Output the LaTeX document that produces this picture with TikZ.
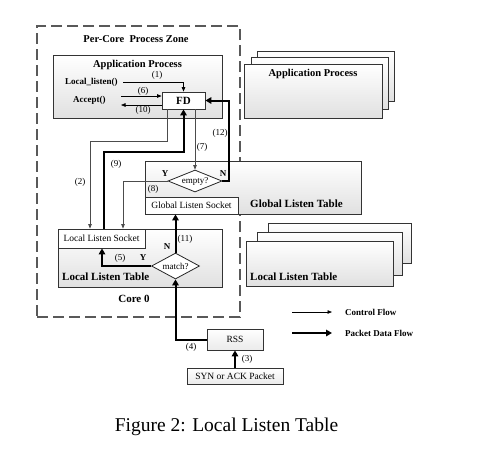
\documentclass[tikz,border=0pt]{standalone}
\usepackage{fontspec}
\setmainfont{Liberation Serif}
\usetikzlibrary{arrows.meta,shapes.geometric}
\newcommand{\fs}[1]{\fontsize{#1}{#1}\selectfont}
\tikzset{
  zone/.style={draw=black!65, line width=1.5pt, dash pattern=on 11pt off 5pt, inner sep=0},
  bigbox/.style={draw=black!80, line width=0.8pt, top color=white, bottom color=black!12, inner sep=0},
  plainbox/.style={draw=black!80, line width=0.8pt, fill=white, inner sep=0},
  smallbox/.style={draw=black!80, line width=0.8pt, top color=white, bottom color=black!8, inner sep=0},
  dec/.style={draw=black!85, line width=0.8pt, fill=white, shape=diamond, inner sep=0.5pt, font=\fs{9}},
  btxt/.style={font=\bfseries\fs{11}, inner sep=0},
  stxt/.style={font=\bfseries\fs{9}, inner sep=0},
  rtxt/.style={font=\fs{9.5}, inner sep=0},
  num/.style={font=\fs{9}, inner sep=0},
  ctrl/.style={draw=black, line width=0.7pt, -{Triangle[length=4.5pt,width=3.5pt]}},
  ctrlg/.style={draw=black!70, line width=0.7pt, -{Triangle[length=4.5pt,width=3.5pt]}},
  data/.style={draw=black, line width=2pt, -{Triangle[length=6pt,width=6.5pt]}},
}
\begin{document}
\begin{tikzpicture}[x=1pt,y=-1pt]
\useasboundingbox (0,0) rectangle (482,467);

% dashed per-core zone
\node[zone, minimum width=203, minimum height=291] (zone) at (138.5,171.5) {};
\node[btxt, font=\bfseries\fs{10.5}] (ztitle) at (136,39) {Per-Core\ \ Process Zone};

% application process (core 0)
\node[bigbox, minimum width=169, minimum height=63] (app) at (137.5,86.5) {};
\node[btxt, font=\bfseries\fs{10.5}] (apptitle) at (137.5,65) {Application Process};
\node[stxt, anchor=west] (ll) at (65,82) {Local\_listen()};
\node[stxt, anchor=west] (acc) at (73,100) {Accept()};
\node[plainbox, minimum width=43, minimum height=17, font=\bfseries\fs{11}] (fd) at (183.5,100.5) {FD};
\coordinate (llR) at (123,82);
\coordinate (accR) at (121,100);

% right-side application process stack
\node[bigbox, minimum width=137, minimum height=50] (appC) at (325.5,76) {};
\node[bigbox, minimum width=137, minimum height=52] (appB) at (319.5,83) {};
\node[bigbox, minimum width=138, minimum height=54] (appA) at (313,91) {};
\node[btxt, font=\bfseries\fs{10.5}] (appAt) at (313,74) {Application Process};

% global listen table
\node[bigbox, minimum width=216, minimum height=53] (gtable) at (253,187.5) {};
\node[btxt, anchor=west] (gtt) at (250,204) {Global Listen Table};
\node[plainbox, minimum width=93, minimum height=17, font=\fs{9.5}] (gsock) at (191.5,205.5) {Global Listen Socket};
\node[dec, aspect=2.5, minimum width=54, minimum height=22] (empty) at (195,181) {empty?};
\node[stxt] (ey) at (165,174) {Y};
\node[stxt] (en) at (223,174) {N};

% local listen table
\node[bigbox, minimum width=164, minimum height=58] (ltable) at (140,258) {};
\node[plainbox, minimum width=87, minimum height=19, font=\fs{9.5}] (lsock) at (101.5,238.5) {Local Listen Socket};
\node[btxt, anchor=west] (ltt) at (62,277) {Local Listen Table};
\node[dec, aspect=1.85, minimum width=48, minimum height=26] (match) at (175.5,266) {match?};
\node[stxt] (mn) at (167,247) {N};
\node[stxt] (my) at (143,258) {Y};
\node[btxt] (core) at (134,299) {Core 0};

% right-side local listen table stack
\node[bigbox, minimum width=143, minimum height=40] (ltC) at (339.5,243) {};
\node[bigbox, minimum width=145, minimum height=43] (ltB) at (329.5,253.5) {};
\node[bigbox, minimum width=147, minimum height=45] (ltA) at (319.5,263.5) {};
\node[btxt, anchor=west] (ltAt) at (250,277) {Local Listen Table};

% RSS and packet
\node[smallbox, minimum width=56, minimum height=21, font=\fs{9.5}] (rss) at (235,339.5) {RSS};
\node[smallbox, minimum width=96, minimum height=16, font=\fs{9.5}] (syn) at (235,376) {SYN or ACK Packet};

% bend coordinates
\coordinate (c2a) at (167.5,141);
\coordinate (c2b) at (90,141);
\coordinate (c9) at (104,152);
\coordinate (c12) at (229,120);
\coordinate (c8) at (123,200);
\coordinate (c5) at (102,260);

% connectors
\draw[ctrl] (llR) -| (fd.north);
\draw[ctrl] ([yshift=4.5]fd.west -| accR) -- ([yshift=4.5]fd.west);
\draw[ctrl] ([yshift=-4.5]fd.west) -- ([yshift=-4.5]fd.west -| accR);
\draw[ctrlg] (fd.south -| c2a) -- (c2a) -- (c2b) -- (c2b |- lsock.north);
\draw[data] (c9 |- lsock.north) -- (c9) -| (fd.south);
\draw[ctrlg] (empty.north |- fd.south) -- (empty.north);
\draw[data] (empty.east) -- (empty.east -| c12) -- (c12 |- fd.east) -- (fd.east);
\draw[ctrlg] (empty.west) -| (lsock.north -| c8);
\draw[data] (match.north) -- (match.north |- gsock.south);
\draw[data] (match.west) -| (lsock.south -| c5);
\draw[data] (rss.west) -| (match.south);
\draw[data] (syn.north) -- (rss.south);

% labels
\node[num] (l1) at (157,75) {(1)};
\node[num] (l6) at (143,91) {(6)};
\node[num] (l10) at (143,110) {(10)};
\node[num] (l12) at (220,133) {(12)};
\node[num] (l7) at (202,147) {(7)};
\node[num] (l9) at (116,164) {(9)};
\node[num] (l2) at (80,182) {(2)};
\node[num] (l8) at (153,189) {(8)};
\node[num] (l11) at (185,239) {(11)};
\node[num] (l5) at (120,258) {(5)};
\node[num] (l4) at (191,347) {(4)};
\node[num] (l3) at (247,359) {(3)};

% legend
\coordinate (lg1a) at (292,312);
\coordinate (lg1b) at (332,312);
\coordinate (lg2a) at (292,333);
\coordinate (lg2b) at (332,333);
\draw[ctrl] (lg1a) -- (lg1b);
\draw[data] (lg2a) -- (lg2b);
\node[stxt, anchor=west] (lgt1) at (345,312) {Control Flow};
\node[stxt, anchor=west] (lgt2) at (345,333) {Packet Data Flow};

% caption
\node[font=\fs{19.5}, inner sep=0] (cap) at (226.5,427) {Figure 2: Local Listen Table};
\end{tikzpicture}
\end{document}
